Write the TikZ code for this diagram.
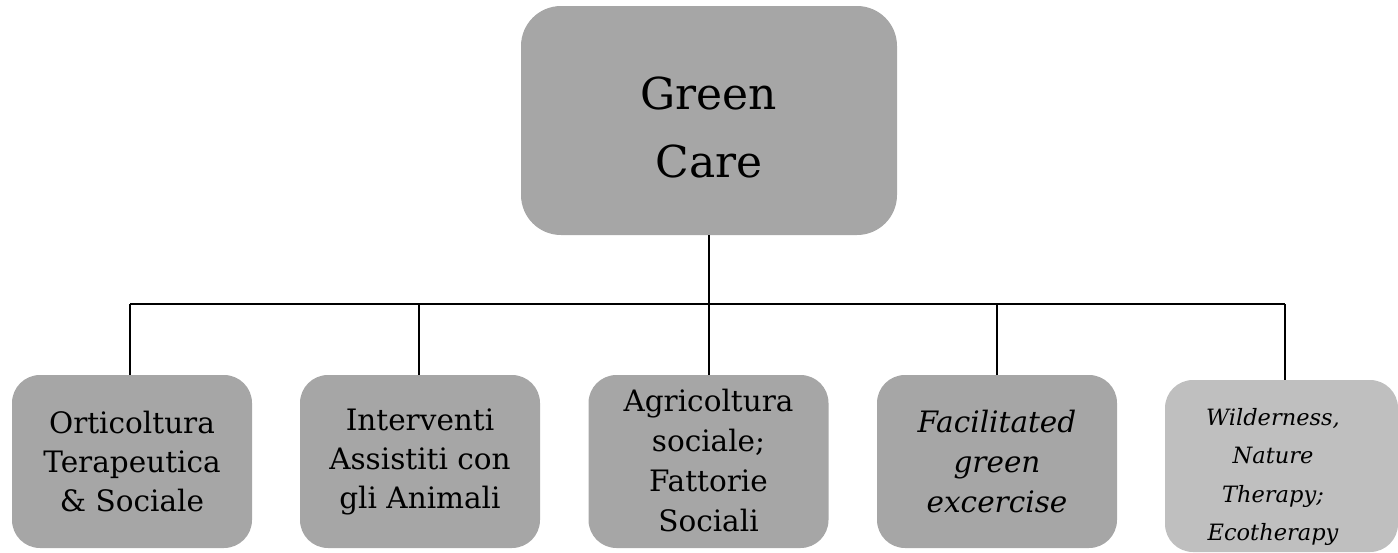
\documentclass[tikz,border=0pt]{standalone}
\usepackage{fontspec}
\setmainfont{DejaVu Serif}
\begin{document}
\begin{tikzpicture}[x=1pt,y=-1pt,
  box/.style={fill=boxgray,draw=none,rounded corners=28pt,minimum width=240pt,minimum height=173pt,align=center,inner sep=0pt},
  label/.style={align=center,inner sep=0pt,anchor=base},
  conn/.style={draw=black,line width=2.4pt}]
\definecolor{boxgray}{HTML}{A6A6A6}
\definecolor{boxlight}{HTML}{BFBFBF}
\useasboundingbox (0,0) rectangle (1398,552);
\node[box,rounded corners=40pt,minimum width=376pt,minimum height=229pt] (top) at (709,120.5) {};
\node[label,font=\fontsize{44}{68}\selectfont] (toptext) at (709,177) {Green\\Care};
\node[box,font=\fontsize{29.5}{39}\selectfont] (b1) at (132,461.5) {Orticoltura\\Terapeutica\\\&~Sociale};
\node[box,font=\fontsize{29.5}{39}\selectfont] (b2) at (420,461.5) {Interventi\\Assistiti con\\gli Animali};
\node[box] (b3) at (708.5,461.5) {};
\node[label,font=\fontsize{29.5}{40}\selectfont] (b3text) at (708.5,531) {Agricoltura\\sociale;\\Fattorie\\Sociali};
\node[box,font=\fontsize{29.5}{40}\selectfont\itshape] (b4) at (997,461.5) {Facilitated\\green\\excercise};
\node[box,fill=boxlight,minimum width=233pt,minimum height=172pt] (b5) at (1281.5,466) {};
\node[label,font=\fontsize{22.5}{38.5}\selectfont\itshape] (b5text) at (1273,540.5) {Wilderness,\\Nature\\Therapy;\\Ecotherapy};
\coordinate (bus) at (709,304);
\coordinate (p1) at (130,304);
\coordinate (p2) at (419,304);
\coordinate (p4) at (997,304);
\coordinate (p5) at (1285,304);
\draw[conn] (top.south) -- (bus);
\draw[conn] (p1) -- (p5);
\draw[conn] (p1) -- (p1 |- b1.north);
\draw[conn] (p2) -- (p2 |- b2.north);
\draw[conn] (bus) -- (bus |- b3.north);
\draw[conn] (p4) -- (p4 |- b4.north);
\draw[conn] (p5) -- (p5 |- b5.north);
\end{tikzpicture}
\end{document}
